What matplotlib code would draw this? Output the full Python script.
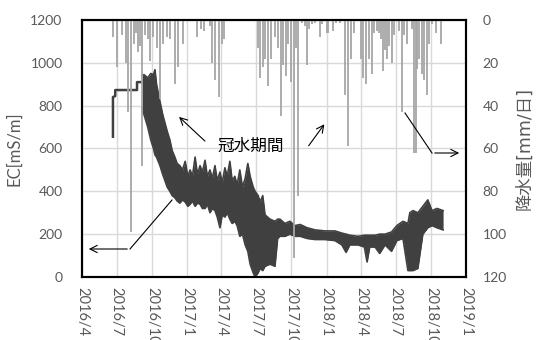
import matplotlib
matplotlib.use("Agg")
import pandas as pd
import matplotlib.pyplot as plt
from matplotlib.lines import Line2D

plt.rcParams['font.family'] = ['Lato', 'Noto Sans CJK JP', 'DejaVu Sans']

# EC before the flooding: a few stepped readings
ec_step_dates = ["2016-06-21", "2016-06-21", "2016-06-27", "2016-06-27",
                 "2016-08-23", "2016-08-23", "2016-09-05"]
ec_step_vals = [655, 840, 845, 873, 873, 910, 910]

# EC afterwards oscillates within a daily band: low / high envelope
ec_band_dates = [
    "2016-09-05", "2016-09-10", "2016-09-20", "2016-09-28", "2016-10-05",
    "2016-10-09", "2016-10-13", "2016-10-22", "2016-10-29", "2016-11-04",
    "2016-11-10", "2016-11-17", "2016-11-23", "2016-11-30", "2016-12-06",
    "2016-12-13", "2016-12-20", "2016-12-27", "2017-01-03", "2017-01-09",
    "2017-01-15", "2017-01-22", "2017-01-28", "2017-02-04", "2017-02-10",
    "2017-02-17", "2017-02-23", "2017-03-02", "2017-03-08", "2017-03-15",
    "2017-03-21", "2017-03-28", "2017-04-03", "2017-04-10", "2017-04-16",
    "2017-04-23", "2017-04-29", "2017-05-06", "2017-05-12", "2017-05-19",
    "2017-05-26", "2017-06-02", "2017-06-09", "2017-06-15", "2017-06-23",
    "2017-06-28", "2017-07-06", "2017-07-11", "2017-07-18", "2017-07-24",
    "2017-08-06", "2017-08-19", "2017-08-26", "2017-09-01", "2017-09-14",
    "2017-09-27", "2017-10-10", "2017-10-24", "2017-11-11", "2017-12-02",
    "2017-12-28", "2018-01-23", "2018-02-10", "2018-02-21", "2018-03-03",
    "2018-03-24", "2018-04-10", "2018-04-17", "2018-04-24", "2018-05-08",
    "2018-05-20", "2018-06-03", "2018-06-20", "2018-07-04", "2018-07-20",
    "2018-08-02", "2018-08-07", "2018-08-15", "2018-08-28", "2018-09-10",
    "2018-09-23", "2018-10-04", "2018-10-17", "2018-11-02",
]
ec_low = [
    790, 760, 700, 640, 600,
    570, 560, 520, 480, 450,
    420, 400, 380, 370, 355,
    345, 360, 350, 330, 340,
    355, 330, 345, 340, 320,
    320, 340, 300, 320, 310,
    280, 230, 290, 280, 300,
    270, 250, 260, 240, 190,
    200, 150, 120, 60, 20,
    0, 20, 40, 30, 50,
    60, 50, 180, 190, 190,
    200, 190, 190, 180, 175,
    175, 170, 150, 115, 150,
    150, 140, 70, 140, 140,
    110, 150, 120, 170, 180,
    30, 30, 30, 40, 200,
    230, 240, 230, 220,
]
ec_high = [
    940, 945, 930, 950, 945,
    968, 900, 820, 760, 720,
    680, 640, 590, 560, 530,
    520, 500, 540, 470, 500,
    470, 560, 480, 520, 490,
    545, 470, 500, 460, 520,
    450, 490, 440, 510, 470,
    540, 450, 470, 430, 500,
    420, 460, 530, 470, 420,
    400, 380, 350, 380, 290,
    270, 260, 270, 270, 250,
    260, 240, 245, 230, 220,
    215, 215, 205, 200, 195,
    190, 195, 195, 195, 195,
    200, 200, 210, 240, 260,
    250, 300, 310, 300, 330,
    360, 310, 320, 310,
]

# daily rainfall (mm/day)
rain_dates = [
    "2016-06-21", "2016-07-01", "2016-07-14", "2016-07-25", "2016-07-30",
    "2016-08-07", "2016-08-15", "2016-08-20", "2016-08-25", "2016-08-30",
    "2016-09-05", "2016-09-13", "2016-09-20", "2016-09-26", "2016-10-03",
    "2016-10-14", "2016-10-22", "2016-10-30", "2016-11-09", "2016-11-17",
    "2016-11-30", "2016-12-08", "2016-12-21", "2017-01-27", "2017-02-06",
    "2017-02-14", "2017-03-02", "2017-03-07", "2017-03-15", "2017-03-25",
    "2017-04-02", "2017-04-07", "2017-07-05", "2017-07-10", "2017-07-18",
    "2017-07-23", "2017-07-31", "2017-08-08", "2017-08-18", "2017-08-26",
    "2017-09-03", "2017-09-08", "2017-09-16", "2017-09-22", "2017-09-30",
    "2017-10-07", "2017-10-13", "2017-10-18", "2017-10-28", "2017-11-05",
    "2017-11-10", "2017-11-15", "2017-11-23", "2017-12-03", "2017-12-14",
    "2017-12-21", "2018-01-01", "2018-01-06", "2018-01-17", "2018-01-27",
    "2018-02-04", "2018-02-17", "2018-02-25", "2018-03-07", "2018-03-15",
    "2018-04-02", "2018-04-07", "2018-04-15", "2018-04-23", "2018-05-01",
    "2018-05-06", "2018-05-14", "2018-05-19", "2018-05-24", "2018-05-30",
    "2018-06-04", "2018-06-09", "2018-06-14", "2018-06-22", "2018-06-27",
    "2018-07-10", "2018-07-18", "2018-07-23", "2018-07-31", "2018-08-13",
    "2018-08-18", "2018-08-23", "2018-08-26", "2018-08-31", "2018-09-08",
    "2018-09-13", "2018-09-21", "2018-09-26", "2018-10-04", "2018-10-14",
    "2018-10-27",
]
rain_mm = [
    8, 22, 7, 20, 43,
    99, 11, 6, 15, 12,
    68, 7, 9, 19, 8,
    13, 37, 11, 8, 9,
    30, 22, 11, 8, 4,
    5, 3, 20, 28, 36,
    11, 9, 13, 27, 22,
    18, 31, 18, 8, 13,
    45, 21, 26, 11, 29,
    111, 13, 82, 1.5, 3,
    21, 4, 2, 1.5, 8,
    2, 6, 6, 5, 1.5,
    1.5, 35, 59, 18, 6,
    18, 27, 30, 18, 25,
    6, 5, 6, 9, 24,
    14, 18, 12, 20, 7,
    5, 43, 7, 11, 4,
    62, 62, 23, 18, 25,
    28, 35, 11, 2, 6,
    11,
]

tick_dates = pd.date_range("2016-04-01", "2019-01-01", freq="3MS")
tick_labels = [f"{d.year}/{d.month}" for d in tick_dates]

EC_COLOR = "#404040"
RAIN_COLOR = "#A6A6A6"
TXT = "#595959"

fig = plt.figure(figsize=(5.42, 3.40), dpi=100)
ax = fig.add_axes([0.1513, 0.1853, 0.7085, 0.7559])
ax2 = ax.twinx()

band_x = pd.to_datetime(ec_band_dates)
ax.fill_between(band_x, ec_low, ec_high, color=EC_COLOR, lw=0)
ax.plot(band_x, ec_low, color=EC_COLOR, lw=1.2)
ax.plot(band_x, ec_high, color=EC_COLOR, lw=1.2)
ax.plot(pd.to_datetime(ec_step_dates), ec_step_vals, color=EC_COLOR, lw=1.8)

ax2.vlines(pd.to_datetime(rain_dates), 0, rain_mm, color=RAIN_COLOR, lw=1.3)

ax.set_xlim(pd.Timestamp("2016-04-01"), pd.Timestamp("2019-01-01"))
ax.set_ylim(0, 1200)
ax.set_yticks(range(0, 1201, 200))
ax2.set_ylim(120, 0)
ax2.set_yticks(range(0, 121, 20))

ax.set_xticks(tick_dates)
ax.set_xticklabels(tick_labels, rotation=270, color=TXT, fontsize=10.5)
ax.grid(True, color="#D9D9D9", lw=1)
ax.set_axisbelow(True)

ax.tick_params(axis="y", length=0, labelsize=10, labelcolor=TXT, pad=14)
ax.tick_params(axis="x", length=0, labelcolor=TXT, pad=7)
ax2.tick_params(axis="y", length=0, labelsize=10, labelcolor=TXT, pad=12)

for a in (ax, ax2):
    for s in a.spines.values():
        s.set_color("black")
        s.set_linewidth(1.5)

ax.set_ylabel("EC[mS/m]", fontsize=12, color=TXT, labelpad=6)
ax2.set_ylabel("降水量[mm/日]", fontsize=12.5, color=TXT, rotation=90,
               labelpad=6, family=['DejaVu Sans', 'Noto Sans CJK JP'])


def px(x, y):
    return (x / 542, 1 - y / 340)


tf = fig.transFigure
fig.text(*px(251, 146), "冠水期間", transform=tf, fontsize=12,
         ha="center", va="center", color="black")

arrow = dict(arrowstyle="->", color="black", lw=0.8, mutation_scale=13)
ax.annotate("", xy=px(177, 115), xytext=px(207, 143), xycoords=tf,
            textcoords=tf, arrowprops=arrow)
ax.annotate("", xy=px(326, 122), xytext=px(307, 148), xycoords=tf,
            textcoords=tf, arrowprops=arrow)

# leader lines with a bend
for pts in ([(405, 113), (432, 153)], [(172, 200), (130, 249)]):
    (x0, y0), (x1, y1) = px(*pts[0]), px(*pts[1])
    fig.add_artist(Line2D([x0, x1], [y0, y1], transform=tf,
                          color="black", lw=0.8))
ax.annotate("", xy=px(462, 153), xytext=px(432, 153), xycoords=tf,
            textcoords=tf, arrowprops=arrow)
ax.annotate("", xy=px(86, 249), xytext=px(130, 249), xycoords=tf,
            textcoords=tf, arrowprops=arrow)

fig.savefig("out.png", dpi=100)
